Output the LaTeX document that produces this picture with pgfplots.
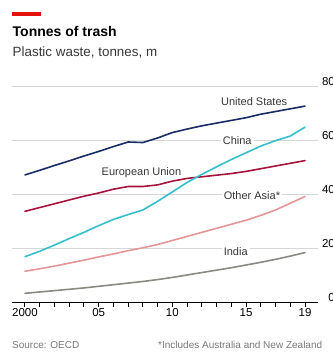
\documentclass[border=0pt]{standalone}
\usepackage{pgfplots}
\pgfplotsset{compat=1.18}
\usepackage{pgfplotstable}
\usepackage{fontspec}
\setmainfont{Liberation Sans}

\definecolor{usblue}{RGB}{24,44,100}
\definecolor{chinacyan}{RGB}{54,190,204}
\definecolor{eured}{RGB}{166,20,60}
\definecolor{asiapink}{RGB}{228,150,150}
\definecolor{indiagrey}{RGB}{138,138,128}
\definecolor{econred}{RGB}{227,18,11}
\definecolor{gridgrey}{RGB}{215,215,215}
\definecolor{txtgrey}{RGB}{55,55,55}
\definecolor{srcgrey}{RGB}{120,120,120}

\pgfplotstableread{
year us china eu asia india
2000 47.3 17.0 33.8 11.6 3.4
2001 49.0 19.0 35.2 12.5 3.9
2002 50.8 21.3 36.6 13.5 4.4
2003 52.5 23.7 38.0 14.6 4.9
2004 54.3 26.0 39.4 15.7 5.4
2005 56.0 28.5 40.6 16.9 6.0
2006 57.8 30.8 42.0 18.0 6.6
2007 59.5 32.6 43.0 19.2 7.2
2008 59.3 34.3 43.0 20.3 7.8
2009 61.0 37.5 43.6 21.5 8.5
2010 63.0 41.0 45.0 23.0 9.3
2011 64.3 44.5 46.0 24.5 10.2
2012 65.5 47.5 46.6 26.0 11.1
2013 66.5 50.3 47.2 27.5 12.0
2014 67.5 53.0 47.8 29.0 12.9
2015 68.5 55.5 48.6 30.5 13.9
2016 69.8 58.0 49.6 32.3 14.9
2017 70.8 60.0 50.6 34.3 16.0
2018 71.8 61.7 51.6 36.8 17.2
2019 72.8 65.0 52.6 39.3 18.5
}\datatable

\begin{document}
\begin{tikzpicture}[x=1pt,y=1pt]
\path[use as bounding box] (0,0) rectangle (332,352);
\clip (0,0) rectangle (332,352);
\fill[econred] (12,336) rectangle (41,339.5);
\node[anchor=base west, inner sep=0pt, font=\bfseries\fontsize{14}{16}\selectfont] at (12.5,315) {Tonnes of trash};
\node[anchor=base west, inner sep=0pt, font=\fontsize{13.4}{15}\selectfont, text=txtgrey] at (12.5,295) {Plastic waste, tonnes, m};
\node[anchor=base west, inner sep=0pt, font=\fontsize{10}{12}\selectfont, text=srcgrey] at (12,4) {Source: OECD};
\node[anchor=base west, inner sep=0pt, font=\fontsize{10}{12}\selectfont, text=srcgrey] at (158,4) {*Includes Australia and New Zealand};
\begin{axis}[
  at={(12pt,49.5pt)}, anchor=south west,
  scale only axis, width=306pt, height=215.8pt,
  xmin=1999.118, xmax=2019.882, ymin=0, ymax=80,
  clip=false,
  axis y line=none,
  axis x line*=bottom,
  x axis line style={black, line width=1.2pt, -},
  xtick={2000,2005,2010,2015,2019},
  xticklabels={2000,05,10,15,19},
  major tick length=0pt,
  xticklabel style={font=\fontsize{11.5}{13}\selectfont, anchor=base, yshift=-14pt},
  every axis plot/.append style={line width=1.6pt, line join=round, line cap=round},
]
\foreach \v in {20,40,60,80} {
  \edef\tmp{\noexpand\draw[gridgrey, line width=0.9pt] (axis cs:1999.118,\v) -- (axis cs:2019.882,\v);}
  \tmp
}
\foreach \yr in {2000,2001,2002,2003,2004,2005,2006,2007,2008,2009,2010,2011,2012,2013,2014,2015,2016,2017,2018,2019} {
  \edef\tmp{\noexpand\draw[black, line width=1pt] (axis cs:\yr,0) -- ([yshift=-4.5pt]axis cs:\yr,0);}
  \tmp
}
\foreach \v in {0,20,40,60,80} {
  \edef\tmp{\noexpand\node[anchor=base east, inner sep=0pt, font=\noexpand\fontsize{11.5}{13}\noexpand\selectfont] at ([xshift=17pt,yshift=1pt]axis cs:2019.882,\v) {\v};}
  \tmp
}
\addplot[indiagrey] table[x=year, y=india] {\datatable};
\addplot[asiapink] table[x=year, y=asia] {\datatable};
\addplot[eured] table[x=year, y=eu] {\datatable};
\addplot[chinacyan] table[x=year, y=china] {\datatable};
\addplot[usblue] table[x=year, y=us] {\datatable};
\node[font=\fontsize{11}{13}\selectfont, text=txtgrey, inner sep=1pt] at (axis cs:2015.55,74.6) {United States};
\node[font=\fontsize{11}{13}\selectfont, text=txtgrey, fill=white, inner xsep=2pt, inner ysep=1pt] at (axis cs:2014.4,60.0) {China};
\node[font=\fontsize{11}{13}\selectfont, text=txtgrey, inner sep=1pt] at (axis cs:2007.9,48.3) {European Union};
\node[font=\fontsize{11}{13}\selectfont, text=txtgrey, fill=white, inner xsep=2pt, inner ysep=1pt] at (axis cs:2015.4,39.8) {Other Asia*};
\node[font=\fontsize{11}{13}\selectfont, text=txtgrey, fill=white, inner xsep=2pt, inner ysep=1pt] at (axis cs:2014.3,18.8) {India};
\end{axis}
\end{tikzpicture}
\end{document}
